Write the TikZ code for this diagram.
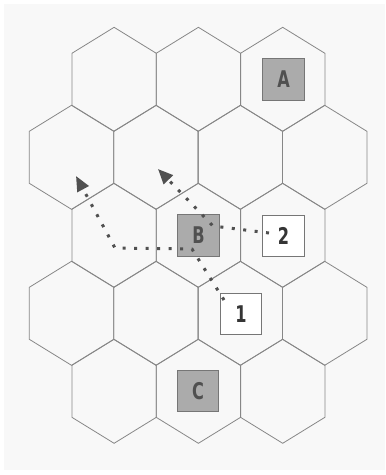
\documentclass[tikz,border=0pt]{standalone}
\usepackage{fontspec}
\setmainfont{Liberation Sans}
\newfontfamily\unitfont{DejaVu Sans Condensed}
\usetikzlibrary{arrows.meta}
\definecolor{bgpanel}{HTML}{F8F8F8}
\definecolor{hexgray}{HTML}{878787}
\definecolor{boxgray}{HTML}{ABABAB}
\definecolor{boxline}{HTML}{767676}
\definecolor{inkgray}{HTML}{505050}
\definecolor{inkdark}{HTML}{353535}
\begin{document}
\begin{tikzpicture}[x=1pt,y=-1pt,
  hexline/.style={draw=hexgray, line width=0.8pt, line join=miter},
  hexcell/.pic={\path[hexline] (0,-52)--(42.2,-26)--(42.2,26)--(0,52)--(-42.2,26)--(-42.2,-26)--cycle;},
  unitbox/.style={draw=boxline, line width=0.7pt, minimum size=41.5pt, inner sep=0pt,
    font=\unitfont\bfseries\fontsize{23}{23}\selectfont},
  enemy/.style={unitbox, fill=boxgray, text=inkgray},
  friend/.style={unitbox, fill=white, text=inkdark},
  route/.style={draw=inkgray, line width=3pt, dash pattern=on 3pt off 8.5pt,
    -{Triangle[length=15pt,width=12.5pt]}}
]
\useasboundingbox (0,0) rectangle (386,475);
\fill[white] (0,0) rectangle (386,475);
\fill[bgpanel] (4,4) rectangle (385,470);
% hex grid
\foreach \y in {79.3,235.3,391.3}{
  \foreach \x in {114.1,198.4,282.7}{ \pic at (\x,\y) {hexcell}; }
}
\foreach \y in {157.3,313.3}{
  \foreach \x in {71.5,155.9,240.3,324.7}{ \pic at (\x,\y) {hexcell}; }
}
% units
\node[enemy]  (A)  at (283.5,79.3)  {\scalebox{0.78}[1]{A}};
\node[enemy]  (B)  at (198.5,235.5) {\scalebox{0.78}[1]{B}};
\node[enemy]  (C)  at (198,391)     {\scalebox{0.78}[1]{C}};
\node[friend] (n2) at (283.5,236)   {\scalebox{0.78}[1]{2}};
\node[friend] (n1) at (241,313.8)   {\scalebox{0.78}[1]{1}};
% routes
\coordinate (s2) at (269,233);
\coordinate (b2) at (213,226);
\coordinate (t2) at (158,169);
\coordinate (s1) at (224,300);
\coordinate (b1a) at (192,249);
\coordinate (b1b) at (115,248);
\coordinate (t1) at (76,176);
\draw[route] (s2) -- (b2) -- (t2);
\draw[route] (s1) -- (b1a) -- (b1b) -- (t1);
\end{tikzpicture}
\end{document}
